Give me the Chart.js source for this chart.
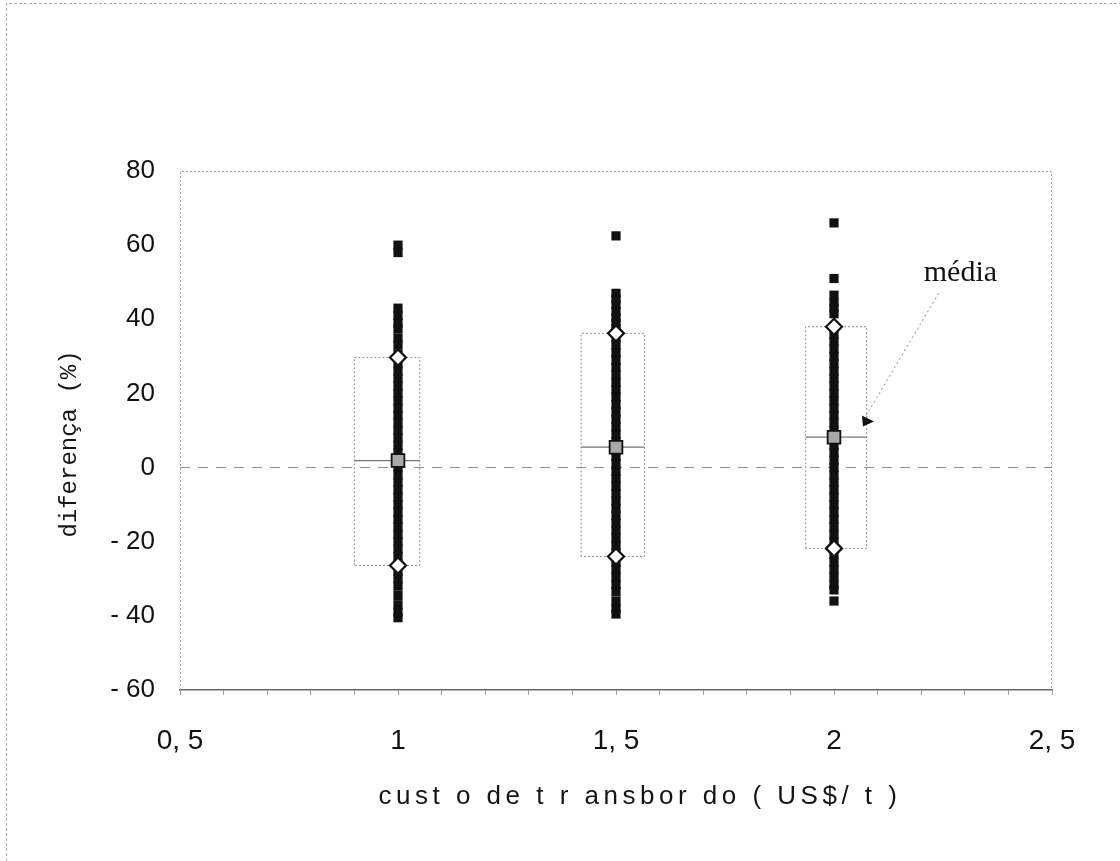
<!DOCTYPE html>
<html>
<head>
<meta charset="utf-8">
<script src="https://cdn.jsdelivr.net/npm/chart.js@4/dist/chart.umd.min.js"></script>
<style>
  html, body { margin: 0; padding: 0; background: #fff; }
  #container { position: relative; width: 1120px; height: 861px; }
</style>
</head>
<body>
<div id="container"><canvas id="chart"></canvas></div>
<script>
// transhipment cost categories (US$/t)
const categories = [1, 1.5, 2];

// individual differences (%)
const pointsAt1 = [60, 58, 43, 41, 39, 37.5, 35, 33, 30.5, 28, 26, 24, 22, 20, 18, 16, 14, 12, 10, 8, 6, 4, 2, 0,
    -2, -4, -6, -8, -10, -12, -14, -16, -18, -20, -22, -24, -26, -28, -30, -32, -34.5, -37, -39, -40.5];
const pointsAt15 = [62.5, 47, 45.5, 44, 42, 40.5, 39, 37.5, 35, 33, 31, 29, 27, 25, 23, 21, 19, 17, 15, 13, 11, 9, 7, 5, 3, 1,
    -1, -3, -5, -7, -9, -11, -13, -15, -17, -19, -21, -23, -25.5, -27.5, -29.5, -31.5, -33.5, -36, -38, -39.5];
const pointsAt2 = [66, 51, 46.5, 44.5, 43, 41.5, 38, 36, 34, 32, 30, 28, 26, 24, 22, 20, 18, 16, 14, 12, 10, 8, 6, 4, 2, 0,
    -2, -4, -6, -8, -10, -12, -14, -16, -18, -20, -22, -23.5, -25.5, -27.5, -29.5, -31.5, -33, -36];

// box (upper / lower marks) and mean per category
const boxHigh = [29.7, 36.2, 38];
const boxLow = [-26.4, -24, -21.8];
const means = [1.9, 5.5, 8.2];
const boxLeft = [0.90, 1.42, 1.935];
const boxRight = [1.05, 1.565, 2.075];

// ticks
const xTickValues = [0.5, 1, 1.5, 2, 2.5];
const xTickLabels = ['0, 5', '1', '1, 5', '2', '2, 5'];
const yTickValues = [-60, -40, -20, 0, 20, 40, 60, 80];
const yTickLabels = ['- 60', '- 40', '- 20', '0', '20', '40', '60', '80'];

// annotation "média" (data units)
const mediaLabelAt = [2.29, 52.5];
const arrowFrom = [2.24, 47];
const arrowTo = [2.071, 13.5];

const X_MIN = 0.5, X_MAX = 2.5;

const columnSets = [pointsAt1, pointsAt15, pointsAt2];
let scatterData = [];
categories.forEach((c, i) => columnSets[i].forEach(v => scatterData.push({ x: c, y: v })));

let datasets = [];
datasets.push({
    type: 'line',
    data: [{ x: X_MIN, y: 0 }, { x: X_MAX, y: 0 }],
    borderColor: '#8a8a8a', borderWidth: 1, borderDash: [10, 8],
    pointRadius: 0, order: 10
});
categories.forEach((c, i) => {
    datasets.push({
        type: 'line',
        data: [
            { x: boxLeft[i], y: boxLow[i] }, { x: boxLeft[i], y: boxHigh[i] },
            { x: boxRight[i], y: boxHigh[i] }, { x: boxRight[i], y: boxLow[i] },
            { x: boxLeft[i], y: boxLow[i] }
        ],
        borderColor: '#8c8c8c', borderWidth: 1, borderDash: [2, 2],
        pointRadius: 0, order: 9
    });
    datasets.push({
        type: 'line',
        data: [{ x: boxLeft[i], y: means[i] }, { x: boxRight[i], y: means[i] }],
        borderColor: '#777', borderWidth: 1.2,
        pointRadius: 0, order: 8
    });
});
datasets.push({
    type: 'scatter',
    data: scatterData,
    pointStyle: 'rect', pointRadius: 6.5,
    backgroundColor: '#111', borderColor: '#111', borderWidth: 0,
    order: 5
});
datasets.push({
    type: 'scatter',
    data: categories.map((c, i) => ({ x: c, y: boxHigh[i] }))
        .concat(categories.map((c, i) => ({ x: c, y: boxLow[i] }))),
    pointStyle: 'rectRot', pointRadius: 8,
    backgroundColor: '#fff', borderColor: '#111', borderWidth: 2.2,
    order: 2
});
datasets.push({
    type: 'scatter',
    data: categories.map((c, i) => ({ x: c, y: means[i] })),
    pointStyle: 'rect', pointRadius: 9,
    backgroundColor: '#a9a9a9', borderColor: '#111', borderWidth: 1.8,
    order: 1
});

const decorations = {
    id: 'decorations',
    beforeDraw(chart) {
        const ctx = chart.ctx;
        ctx.save();
        ctx.strokeStyle = '#b0b0b0';
        ctx.lineWidth = 1;
        ctx.setLineDash([3, 2]);
        ctx.beginPath();
        ctx.moveTo(6.5, 861);
        ctx.lineTo(6.5, 3.5);
        ctx.lineTo(1120, 3.5);
        ctx.stroke();
        ctx.restore();
    },
    beforeDatasetsDraw(chart) {
        const { ctx, chartArea: a } = chart;
        ctx.save();
        ctx.strokeStyle = '#a0a0a0';
        ctx.lineWidth = 1;
        ctx.setLineDash([2, 2]);
        ctx.beginPath();
        ctx.moveTo(a.left + 0.5, a.bottom);
        ctx.lineTo(a.left + 0.5, a.top + 0.5);
        ctx.lineTo(a.right - 0.5, a.top + 0.5);
        ctx.lineTo(a.right - 0.5, a.bottom);
        ctx.stroke();
        ctx.restore();
    },
    afterDraw(chart) {
        const ctx = chart.ctx;
        const xs = chart.scales.x, ys = chart.scales.y;
        ctx.save();
        // arrow to the mean
        const sx = xs.getPixelForValue(arrowFrom[0]), sy = ys.getPixelForValue(arrowFrom[1]);
        const ex = xs.getPixelForValue(arrowTo[0]), ey = ys.getPixelForValue(arrowTo[1]);
        ctx.strokeStyle = '#888';
        ctx.lineWidth = 1;
        ctx.setLineDash([2, 3]);
        ctx.beginPath();
        ctx.moveTo(sx, sy);
        ctx.lineTo(ex, ey);
        ctx.stroke();
        ctx.setLineDash([]);
        ctx.fillStyle = '#111';
        ctx.beginPath();
        ctx.moveTo(ex - 3, ey - 2);
        ctx.lineTo(ex - 2, ey + 9);
        ctx.lineTo(ex + 9, ey + 4);
        ctx.closePath();
        ctx.fill();
        // label
        ctx.font = '30px "Liberation Serif"';
        ctx.textAlign = 'center';
        ctx.textBaseline = 'middle';
        ctx.fillText('média', xs.getPixelForValue(mediaLabelAt[0]), ys.getPixelForValue(mediaLabelAt[1]));
        // axis titles
        ctx.fillStyle = '#151515';
        ctx.font = '24px "Liberation Mono"';
        ctx.translate(70, 444);
        ctx.rotate(-Math.PI / 2);
        ctx.fillText('diferença (%)', 0, 0);
        ctx.restore();

        ctx.save();
        ctx.fillStyle = '#151515';
        ctx.font = '26px "Liberation Sans"';
        ctx.letterSpacing = '4.5px';
        ctx.textAlign = 'center';
        ctx.textBaseline = 'middle';
        ctx.fillText('cust o de t r ansbor do ( US$/ t )', 640, 797);
        ctx.restore();
    }
};

new Chart(document.getElementById('chart'), {
    type: 'scatter',
    data: { datasets: datasets },
    options: {
        responsive: true,
        maintainAspectRatio: false,
        animation: false,
        layout: { padding: { left: 0, top: 171, right: 68, bottom: 0 } },
        plugins: {
            legend: { display: false },
            tooltip: { enabled: false }
        },
        scales: {
            x: {
                type: 'linear',
                min: X_MIN,
                max: X_MAX,
                afterFit: s => { s.height = 171; },
                ticks: {
                    stepSize: 0.1,
                    autoSkip: false,
                    maxRotation: 0,
                    padding: 29,
                    color: '#111',
                    font: { family: 'Liberation Sans', size: 28 },
                    callback: v => {
                        const k = xTickValues.findIndex(t => Math.abs(t - v) < 1e-6);
                        return k < 0 ? '' : xTickLabels[k];
                    }
                },
                grid: { drawOnChartArea: false, drawTicks: true, tickLength: 5, color: '#999' },
                border: { color: '#666', width: 1.5 }
            },
            y: {
                min: -60,
                max: 80,
                afterFit: s => { s.width = 180; },
                ticks: {
                    stepSize: 20,
                    padding: 25,
                    color: '#111',
                    font: { family: 'Liberation Sans', size: 26 },
                    callback: v => {
                        const k = yTickValues.indexOf(v);
                        return k < 0 ? '' : yTickLabels[k];
                    }
                },
                grid: { drawOnChartArea: false, drawTicks: false },
                border: { display: false }
            }
        }
    },
    plugins: [decorations]
});
</script>
</body>
</html>
